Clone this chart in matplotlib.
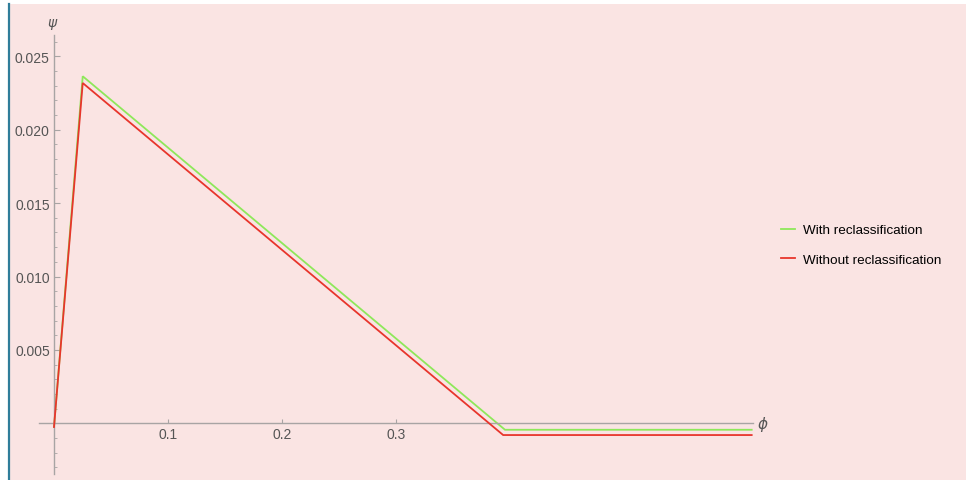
import matplotlib
matplotlib.use("Agg")
import matplotlib.pyplot as plt
from matplotlib.patches import Rectangle
from matplotlib.lines import Line2D
import numpy as np

# Data
phi_with = [0.0, 0.0252, 0.3956, 0.612]
psi_with = [-0.00025, 0.02364, -0.00044, -0.00044]
phi_without = [0.0, 0.0252, 0.3940, 0.612]
psi_without = [-0.00025, 0.02318, -0.00080, -0.00080]
labels = ["With reclassification", "Without reclassification"]
colors = ["#8ee85a", "#e8352c"]
yticks = [0.005, 0.010, 0.015, 0.020, 0.025]
xticks = [0.1, 0.2, 0.3]

W, H = 966, 481
fig = plt.figure(figsize=(W / 100, H / 100), dpi=100)
fig.patch.set_facecolor("white")
plt.rcParams['font.family'] = ['Liberation Sans', 'DejaVu Sans']

# background pink panel + blue left bar
fig.patches.append(Rectangle((9 / W, 0), 1 - 9 / W, 1 - 5 / H, transform=fig.transFigure,
                             facecolor="#fae4e3", edgecolor="none", zorder=-10))
fig.lines.append(Line2D([8.5 / W, 8.5 / W], [0, 1 - 5 / H], transform=fig.transFigure,
                        color="#2f7d9a", lw=1.6, zorder=-5))

# pixel mapping
x0_px, px_per_x = 54.0, 1140.0
y0_px, px_per_y = 424.3, 14680.0
left_px, right_px = 39.0, 753.0
top_px, bot_px = 35.7, 475.0
xlim = ((left_px - x0_px) / px_per_x, (right_px - x0_px) / px_per_x)
ylim = ((y0_px - bot_px) / px_per_y, (y0_px - top_px) / px_per_y)

ax = fig.add_axes([left_px / W, 1 - bot_px / H, (right_px - left_px) / W, (bot_px - top_px) / H])
ax.set_facecolor("none")
ax.set_xlim(*xlim)
ax.set_ylim(*ylim)

ax.plot(phi_with, psi_with, color=colors[0], lw=1.3, label=labels[0], solid_joinstyle="miter", zorder=2)
ax.plot(phi_without, psi_without, color=colors[1], lw=1.3, label=labels[1], solid_joinstyle="miter", zorder=3)

axcol = "#a8a4a4"
for s in ["top", "right"]:
    ax.spines[s].set_visible(False)
ax.spines["left"].set_position(("data", 0))
ax.spines["bottom"].set_position(("data", 0))
ax.spines["left"].set_color(axcol)
ax.spines["bottom"].set_color(axcol)
ax.spines["left"].set_linewidth(1.0)
ax.spines["bottom"].set_linewidth(1.0)

ax.set_xticks(xticks)
ax.set_xticklabels([f"{v:.1f}" for v in xticks])
ax.set_yticks(yticks)
ax.set_yticklabels([f"{v:.3f}" for v in yticks])
ax.set_yticks(np.round(np.arange(-0.003, 0.0265, 0.001), 4), minor=True)
ax.tick_params(axis="both", which="major", direction="in", color=axcol, labelcolor="#555555",
               labelsize=10)
ax.tick_params(axis="y", which="major", length=4, pad=3)
ax.tick_params(axis="x", which="major", length=3, pad=3)
ax.tick_params(axis="y", which="minor", direction="in", length=2.5, color=axcol)
ax.tick_params(axis="x", which="minor", length=0)

# axis labels
fig.text(52 / W, 1 - 23 / H, "ψ", ha="center", va="center", color="#555555", fontsize=10,
         style="italic", family=["DejaVu Sans"])
fig.text(763 / W, 1 - 424 / H, "ϕ", ha="center", va="center", color="#555555", fontsize=11,
         style="italic", family=["DejaVu Sans"])

leg = fig.legend(loc="center left", bbox_to_anchor=(781 / W, 1 - 245.7 / H), frameon=False,
                 fontsize=9.7, handlelength=1.05, handletextpad=0.6, labelspacing=1.25,
                 borderpad=0, borderaxespad=0)
for t in leg.get_texts():
    t.set_color("black")

fig.savefig("out.png", dpi=100)
